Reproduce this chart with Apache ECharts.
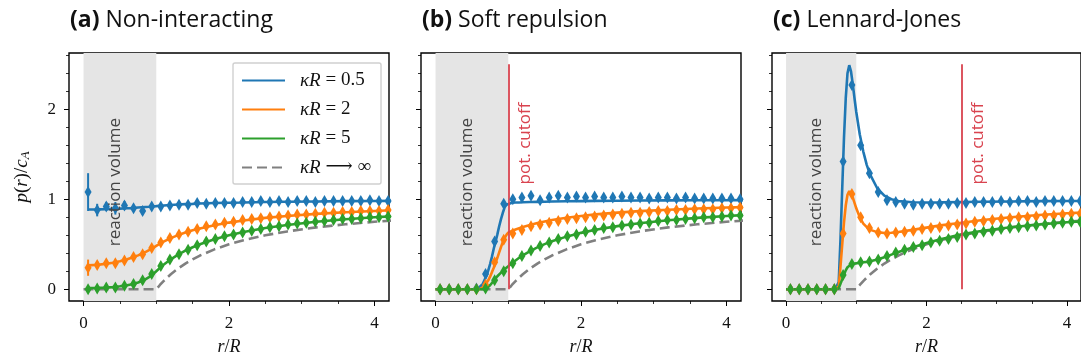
<!DOCTYPE html>
<html><head><meta charset="utf-8">
<script src="https://cdn.jsdelivr.net/npm/echarts@6/dist/echarts.min.js"></script>
<style>html,body{margin:0;padding:0;background:#fff}#c{width:1081px;height:362px}</style>
</head><body><div id="c"></div>
<script>
// ---------- data ----------
const markerX = [0.0625,0.1875,0.3125,0.4375,0.5625,0.6875,0.8125,0.9375,1.0625,1.1875,1.3125,1.4375,1.5625,1.6875,1.8125,1.9375,2.0625,2.1875,2.3125,2.4375,2.5625,2.6875,2.8125,2.9375,3.0625,3.1875,3.3125,3.4375,3.5625,3.6875,3.8125,3.9375,4.0625,4.1875];

// panel (a) simulation
const simA_05 = [1.08,0.88,0.92,0.90,0.93,0.90,0.87,0.92,0.92,0.93,0.94,0.94,0.96,0.95,0.96,0.96,0.96,0.97,0.97,0.98,0.97,0.98,0.97,0.98,0.98,0.97,0.98,0.98,0.98,0.98,0.98,0.99,0.98,0.98];
const errA_05 = [0.21,0.07,0.05,0.07,0.05,0.03,0.04,0.03,0.02,0.02,0.02,0.02,0.02,0.02,0.02,0.02,0.02,0.02,0.02,0.02,0.02,0.02,0.02,0.02,0.02,0.02,0.02,0.02,0.02,0.02,0.02,0.02,0.02,0.02];
const simA_2 = [0.24,0.27,0.29,0.29,0.32,0.36,0.39,0.46,0.52,0.57,0.61,0.64,0.67,0.70,0.72,0.74,0.75,0.77,0.78,0.79,0.80,0.81,0.82,0.83,0.83,0.84,0.85,0.85,0.86,0.86,0.87,0.87,0.87,0.88];
const errA_2 = [0.09,0.04,0.03,0.03,0.03,0.02,0.02,0.02,0.02,0.02,0.02,0.02,0.02,0.02,0.02,0.02,0.02,0.02,0.02,0.02,0.02,0.02,0.02,0.02,0.02,0.02,0.02,0.02,0.02,0.02,0.02,0.02,0.02,0.02];
const simA_5 = [0.00,0.01,0.02,0.02,0.04,0.06,0.10,0.17,0.26,0.33,0.39,0.44,0.49,0.53,0.56,0.59,0.61,0.63,0.65,0.67,0.69,0.70,0.72,0.73,0.74,0.75,0.76,0.77,0.78,0.78,0.79,0.80,0.80,0.81];
// panel (b) simulation
const simB_05 = [0,0,0,0,0.01,0.17,0.53,0.95,1.00,1.02,1.04,0.99,1.02,1.04,1.02,1.03,1.02,1.03,1.02,1.02,1.03,1.02,1.02,1.01,1.02,1.02,1.01,1.02,1.01,1.01,1.01,1.01,1.01,1.00];
const simB_2 = [0,0,0,0,0,0.05,0.30,0.55,0.62,0.66,0.70,0.72,0.74,0.76,0.78,0.79,0.80,0.81,0.82,0.83,0.84,0.85,0.85,0.86,0.87,0.87,0.88,0.88,0.89,0.89,0.89,0.90,0.90,0.91];
const simB_5 = [0,0,0,0,0,0.01,0.10,0.20,0.29,0.37,0.43,0.48,0.52,0.56,0.59,0.61,0.64,0.66,0.68,0.69,0.71,0.72,0.73,0.74,0.76,0.77,0.77,0.78,0.79,0.80,0.80,0.81,0.82,0.82];
// panel (c) simulation
const simC_05 = [0,0,0,0,0,0,1.42,2.27,1.60,1.29,1.08,0.99,0.97,0.95,0.94,0.95,0.95,0.95,0.95,0.96,0.96,0.97,0.97,0.97,0.98,0.97,0.98,0.98,0.97,0.98,0.98,0.98,0.98,0.98];
const simC_2 = [0,0,0,0,0,0,0.62,1.06,0.80,0.68,0.63,0.62,0.63,0.64,0.65,0.67,0.68,0.69,0.71,0.72,0.73,0.75,0.76,0.77,0.78,0.79,0.80,0.80,0.81,0.82,0.82,0.83,0.84,0.84];
const simC_5 = [0,0,0,0,0,0,0.16,0.28,0.30,0.31,0.33,0.37,0.41,0.44,0.47,0.49,0.52,0.54,0.56,0.58,0.61,0.62,0.64,0.65,0.67,0.68,0.69,0.70,0.71,0.72,0.73,0.74,0.75,0.75];

// theory curves
const theoryX = [0,0.0625,0.2,0.3,0.4,0.5,0.55,0.6,0.65,0.7,0.725,0.75,0.775,0.8,0.825,0.85,0.875,0.9,0.925,0.95,0.975,1.0,1.05,1.1,1.15,1.2,1.3,1.4,1.5,1.6,1.8,2.0,2.2,2.5,2.8,3.2,3.6,4.0,4.3];
const thA_05 = [null,0.887,0.888,0.889,0.893,0.896,0.898,0.900,0.902,0.905,0.906,0.908,0.909,0.911,0.913,0.914,0.916,0.917,0.919,0.921,0.923,0.924,0.928,0.931,0.934,0.937,0.942,0.946,0.949,0.953,0.958,0.962,0.965,0.970,0.973,0.976,0.979,0.981,0.982];
const thA_2 = [null,0.266,0.273,0.282,0.295,0.312,0.323,0.334,0.347,0.362,0.369,0.377,0.386,0.395,0.404,0.414,0.424,0.435,0.446,0.457,0.469,0.482,0.507,0.529,0.550,0.568,0.602,0.630,0.655,0.676,0.712,0.741,0.765,0.793,0.815,0.838,0.856,0.870,0.880];
const thA_5 = [null,0.014,0.016,0.019,0.024,0.033,0.038,0.045,0.053,0.064,0.070,0.076,0.084,0.092,0.101,0.111,0.122,0.135,0.149,0.164,0.181,0.200,0.238,0.273,0.304,0.333,0.385,0.429,0.467,0.500,0.556,0.600,0.636,0.680,0.714,0.750,0.778,0.800,0.814];
const thInf = [0,0,0,0,0,0,0,0,0,0,0,0,0,0,0,0,0,0,0,0,0,0,0.048,0.091,0.130,0.167,0.231,0.286,0.333,0.375,0.444,0.500,0.545,0.600,0.643,0.688,0.722,0.750,0.767];
const thB_05 = [0,0,0,0,0,0,0,0.02,0.06,0.15,0.21,0.28,0.36,0.45,0.53,0.61,0.70,0.78,0.85,0.91,0.94,0.96,0.962,0.964,0.965,0.967,0.969,0.971,0.973,0.975,0.978,0.980,0.982,0.984,0.986,0.988,0.989,0.990,0.991];
const thB_2 = [0,0,0,0,0,0,0,0,0.02,0.07,0.10,0.14,0.19,0.24,0.295,0.35,0.41,0.47,0.525,0.57,0.605,0.63,0.648,0.664,0.678,0.692,0.715,0.736,0.753,0.769,0.794,0.815,0.832,0.852,0.868,0.884,0.897,0.908,0.914];
const thB_5 = [0,0,0,0,0,0,0,0,0,0.01,0.025,0.045,0.07,0.095,0.12,0.145,0.165,0.185,0.205,0.222,0.238,0.255,0.29,0.32,0.35,0.377,0.425,0.466,0.502,0.533,0.585,0.627,0.661,0.702,0.734,0.767,0.793,0.814,0.827];
const thC_05 = [0,0,0,0,0,0,0,0,0,0,0,0.08,0.55,1.12,1.68,2.12,2.40,2.49,2.42,2.28,2.12,1.97,1.72,1.53,1.38,1.27,1.12,1.04,1.00,0.98,0.967,0.965,0.966,0.969,0.972,0.976,0.979,0.981,0.982];
const thC_2 = [0,0,0,0,0,0,0,0,0,0,0,0.03,0.25,0.50,0.74,0.93,1.05,1.09,1.07,1.02,0.96,0.90,0.80,0.73,0.69,0.66,0.635,0.625,0.628,0.637,0.66,0.685,0.71,0.74,0.77,0.80,0.825,0.845,0.855];
const thC_5 = [0,0,0,0,0,0,0,0,0,0,0,0.01,0.06,0.11,0.16,0.21,0.245,0.265,0.275,0.28,0.285,0.29,0.295,0.30,0.305,0.312,0.33,0.355,0.385,0.415,0.465,0.515,0.555,0.61,0.65,0.69,0.72,0.745,0.76];

const seriesNames = ['κR = 0.5','κR = 2','κR = 5','κR → ∞'];
const panelTitles = [['(a)','Non-interacting'],['(b)','Soft repulsion'],['(c)','Lennard-Jones']];
const xMajor = [0,2,4], xMinor = [0.5,1,1.5,2.5,3,3.5];
const yMajor = [0,1,2], yMinor = [0.2,0.4,0.6,0.8,1.2,1.4,1.6,1.8,2.2,2.4,2.6];
const reactionVolume = [0,1];
const cutoffs = [null,1,2.5];
const cutoffTop = 2.5;

// ---------- build ----------
const COLORS = ['#1f77b4','#ff7f0e','#2ca02c'];
const GRAY = '#808080', RED = '#d9434f';
const SERIF = '"Liberation Serif","DejaVu Serif",serif';
const SANS = '"Open Sans","Noto Sans",sans-serif';
const panels = [
  {th:[thA_05,thA_2,thA_5], sim:[simA_05,simA_2,simA_5], err:[errA_05,errA_2,null]},
  {th:[thB_05,thB_2,thB_5], sim:[simB_05,simB_2,simB_5], err:[null,null,null]},
  {th:[thC_05,thC_2,thC_5], sim:[simC_05,simC_2,simC_5], err:[null,null,null]}
];
const gridLeft = [69,421,772];
const zip = (xs, ys) => xs.map((x,i)=>[x, ys[i]]);

const grids=[], xAxes=[], yAxes=[], series=[], titles=[];
const labelSeriesIdx = [];
panels.forEach((p,g)=>{
  grids.push({left:gridLeft[g], top:53, width:320, height:248, show:true, borderColor:'#000', borderWidth:1.4, backgroundColor:'transparent', containLabel:false});
  const baseX = {type:'value', gridIndex:g, min:-0.2, max:4.2, position:'bottom', splitLine:{show:false}, axisLine:{show:false,onZero:false}};
  xAxes.push(Object.assign({}, baseX, {
    axisTick:{show:true, customValues:xMajor, length:5, lineStyle:{color:'#000',width:1}},
    axisLabel:{show:true, customValues:xMajor, margin:14, fontFamily:SERIF, fontSize:17, color:'#111'},
    name:'{i|r}/{i|R}', nameLocation:'middle', nameGap:37,
    nameTextStyle:{fontFamily:SERIF, fontSize:18, color:'#111', rich:{i:{fontFamily:SERIF, fontStyle:'italic', fontSize:18, color:'#111'}}}
  }));
  xAxes.push(Object.assign({}, baseX, {
    axisTick:{show:true, customValues:xMinor, length:3, lineStyle:{color:'#000',width:0.8}},
    axisLabel:{show:false}
  }));
  const baseY = {type:'value', gridIndex:g, min:-0.13, max:2.625, position:'left', splitLine:{show:false}, axisLine:{show:false,onZero:false}};
  const yMaj = Object.assign({}, baseY, {
    axisTick:{show:true, customValues:yMajor, length:5, lineStyle:{color:'#000',width:1}},
    axisLabel:{show:g===0, customValues:yMajor, margin:13, fontFamily:SERIF, fontSize:17, color:'#111'}
  });
  if(g===0){
    Object.assign(yMaj,{name:'{i|p}({i|r})/{i|c}{s|A}', nameLocation:'middle', nameGap:37,
      nameTextStyle:{fontFamily:SERIF, fontSize:19, color:'#111', rich:{
        i:{fontFamily:SERIF, fontStyle:'italic', fontSize:19, color:'#111'},
        s:{fontFamily:SERIF, fontStyle:'italic', fontSize:13, color:'#111', verticalAlign:'bottom', padding:[7,0,0,0]}}}});
  }
  yAxes.push(yMaj);
  yAxes.push(Object.assign({}, baseY, {
    axisTick:{show:true, customValues:yMinor, length:3, lineStyle:{color:'#000',width:0.8}},
    axisLabel:{show:false}
  }));
  const xi = 2*g, yi = 2*g;
  series.push({type:'line', name:seriesNames[3], xAxisIndex:xi, yAxisIndex:yi, data:zip(theoryX, thInf),
    symbol:'none', z:2, lineStyle:{color:GRAY, width:2.6, type:[10,5]}, itemStyle:{color:GRAY},
    markArea:{silent:true, z:0, itemStyle:{color:'#e5e5e5'}, label:{show:false}, data:[[{xAxis:reactionVolume[0]},{xAxis:reactionVolume[1]}]]}
  });
  labelSeriesIdx[g] = series.length-1;
  for(let k=0;k<3;k++){
    series.push({type:'line', name:seriesNames[k], xAxisIndex:xi, yAxisIndex:yi, data:zip(theoryX, p.th[k]),
      symbol:'none', z:3, connectNulls:false, lineStyle:{color:COLORS[k], width:2.6}, itemStyle:{color:COLORS[k]}});
  }
  for(let k=0;k<3;k++){
    if(p.err[k]){
      const e = p.err[k], s = p.sim[k];
      series.push({type:'custom', name:'err'+g+k, xAxisIndex:xi, yAxisIndex:yi, z:4, silent:true,
        data: markerX.map((x,i)=>[x, s[i]-e[i], s[i]+e[i]]),
        renderItem:(params, api)=>{
          const a = api.coord([api.value(0), api.value(1)]);
          const b = api.coord([api.value(0), api.value(2)]);
          return {type:'line', shape:{x1:a[0],y1:a[1],x2:b[0],y2:b[1]}, style:{stroke:COLORS[k], lineWidth:2}};
        }});
    }
    series.push({type:'scatter', name:'sim'+g+k, xAxisIndex:xi, yAxisIndex:yi, data:zip(markerX, p.sim[k]),
      symbol:'diamond', symbolSize:[7,12], z:5, itemStyle:{color:COLORS[k], opacity:1}});
  }
  if(cutoffs[g]!==null){
    series.push({type:'line', name:'cut'+g, xAxisIndex:xi, yAxisIndex:yi, data:[], z:8,
      markLine:{silent:true, symbol:['none','none'], label:{show:false}, lineStyle:{color:RED, width:1.8, type:'solid'},
        data:[[{coord:[cutoffs[g],0]},{coord:[cutoffs[g],cutoffTop]}]]}});
  }
  titles.push({text:'{b|'+panelTitles[g][0]+'} '+panelTitles[g][1], left:gridLeft[g]+1, top:9, padding:0,
    textStyle:{fontFamily:SANS, fontSize:23, fontWeight:'normal', color:'#111',
      rich:{b:{fontFamily:SANS, fontSize:23, fontWeight:'bold', color:'#111'}}}});
});

const chart = echarts.init(document.getElementById('c'), null, {renderer:'canvas'});
chart.setOption({
  animation:false,
  backgroundColor:'#fff',
  title:titles,
  grid:grids, xAxis:xAxes, yAxis:yAxes, series:series,
  legend:{data:seriesNames, orient:'vertical', left:233, top:63, itemWidth:43, itemHeight:14, itemGap:10,
    padding:[8,10,7,8], backgroundColor:'#fff', borderColor:'#d0d0d0', borderWidth:1.4, borderRadius:2,
    selectedMode:false, z:20, itemStyle:{opacity:0, borderWidth:0},
    formatter:(n)=>n.replace('κR','{i|κR}').replace('→','⟶'),
    textStyle:{fontFamily:SERIF, fontSize:19, lineHeight:19, color:'#111', padding:[0,0,0,10],
      rich:{i:{fontFamily:SERIF, fontStyle:'italic', fontSize:19, lineHeight:19, color:'#111'}}}}
});

// annotation texts placed through the axes
const gr = [];
for(let g=0; g<3; g++){
  const pt = chart.convertToPixel({seriesIndex:labelSeriesIdx[g]}, [0.43, 1.19]);
  gr.push({type:'text', x:pt[0], y:pt[1], rotation:Math.PI/2, z:6,
    style:{text:'reaction volume', fill:'#444', font:'17px '+SANS, align:'center', verticalAlign:'middle'}});
  if(cutoffs[g]!==null){
    const q = chart.convertToPixel({seriesIndex:labelSeriesIdx[g]}, [cutoffs[g]+0.23, 1.62]);
    gr.push({type:'text', x:q[0], y:q[1], rotation:Math.PI/2, z:6,
      style:{text:'pot. cutoff', fill:RED, font:'17px '+SANS, align:'center', verticalAlign:'middle'}});
  }
}
chart.setOption({graphic:gr});
</script></body></html>
